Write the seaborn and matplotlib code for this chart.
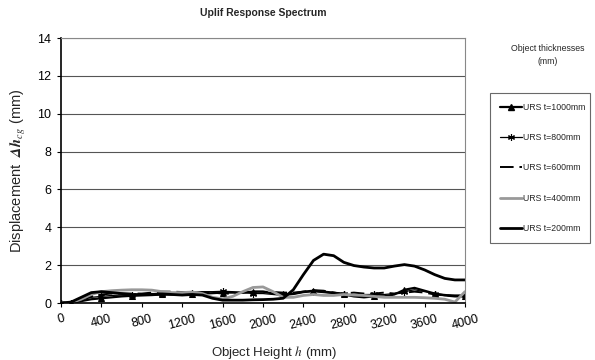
import numpy as np
import pandas as pd
import matplotlib
matplotlib.use("Agg")
import matplotlib.pyplot as plt
from matplotlib.lines import Line2D
import seaborn as sns

# Object height h (mm)
h = list(range(0, 4100, 100))

# Uplift response per object thickness (mm)
urs_1000 = [0, 0, 0.1, 0.2, 0.25, 0.3, 0.35, 0.38, 0.4, 0.42, 0.45, 0.45, 0.48, 0.5, 0.5, 0.52,
            0.55, 0.55, 0.55, 0.6, 0.6, 0.5, 0.45, 0.5, 0.6, 0.65, 0.6, 0.55, 0.45, 0.35, 0.3,
            0.35, 0.35, 0.45, 0.7, 0.8, 0.65, 0.5, 0.4, 0.35, 0.35]
urs_800 = [0, 0.02, 0.15, 0.3, 0.35, 0.4, 0.42, 0.4, 0.45, 0.5, 0.5, 0.48, 0.5, 0.55, 0.6, 0.6,
           0.62, 0.6, 0.55, 0.5, 0.5, 0.45, 0.4, 0.45, 0.55, 0.6, 0.55, 0.5, 0.45, 0.45, 0.45,
           0.45, 0.45, 0.5, 0.6, 0.7, 0.6, 0.5, 0.45, 0.4, 0.4]
urs_600 = [0, 0.02, 0.2, 0.35, 0.45, 0.5, 0.5, 0.5, 0.5, 0.55, 0.6, 0.6, 0.58, 0.55, 0.55, 0.55,
           0.5, 0.5, 0.55, 0.6, 0.6, 0.58, 0.55, 0.55, 0.6, 0.68, 0.65, 0.55, 0.5, 0.55, 0.5,
           0.5, 0.55, 0.5, 0.55, 0.6, 0.55, 0.45, 0.4, 0.4, 0.4]
urs_400 = [0, 0.02, 0.2, 0.45, 0.6, 0.65, 0.68, 0.7, 0.7, 0.68, 0.6, 0.55, 0.55, 0.58, 0.5, 0.3,
           0.22, 0.35, 0.6, 0.82, 0.85, 0.6, 0.3, 0.3, 0.4, 0.45, 0.4, 0.4, 0.45, 0.42, 0.4,
           0.35, 0.3, 0.3, 0.3, 0.3, 0.28, 0.25, 0.2, 0.05, 0.6]
urs_200 = [0, 0.05, 0.3, 0.55, 0.6, 0.55, 0.5, 0.45, 0.45, 0.45, 0.48, 0.45, 0.42, 0.45, 0.42, 0.25,
           0.15, 0.15, 0.15, 0.17, 0.18, 0.2, 0.25, 0.7, 1.5, 2.25, 2.58, 2.5, 2.15, 1.98, 1.9,
           1.85, 1.85, 1.95, 2.03, 1.95, 1.75, 1.5, 1.3, 1.22, 1.22]

labels = ["URS t=1000mm", "URS t=800mm", "URS t=600mm", "URS t=400mm", "URS t=200mm"]
x_ticks = list(range(0, 4400, 400))
y_ticks = list(range(0, 16, 2))

sns.set_style("white")
plt.rcParams["font.family"] = ["Liberation Sans", "DejaVu Sans"]
plt.rcParams["mathtext.fontset"] = "stix"

fig = plt.figure(figsize=(5.95, 3.6), dpi=100)
ax = fig.add_axes([0.1025, 0.1583, 0.679, 0.736])

styles = [
    dict(color="black", lw=1.6, marker="^", markersize=4.5,
         markeredgecolor="black", markerfacecolor="black"),
    dict(color="black", lw=0.9, marker=(6, 2, 0), markersize=5,
         markeredgecolor="black", mew=0.8),
    dict(color="black", lw=1.4, dashes=(7, 3)),
    dict(color="#999999", lw=2.0),
    dict(color="black", lw=2.0),
]
marks = [0] + list(range(1, len(h), 3))
series = [urs_1000, urs_800, urs_600, urs_400, urs_200]
for y, st in zip(series, styles):
    kw = dict(st)
    if "marker" in kw:
        kw["markevery"] = marks
    sns.lineplot(x=h, y=y, ax=ax, **kw)

ax.set_xlim(0, 4000)
ax.set_ylim(0, 14)
ax.set_xticks(x_ticks)
ax.set_xticklabels([str(t) for t in x_ticks], rotation=15, ha="center", fontsize=9)
ax.set_yticks(y_ticks)
ax.set_yticklabels([str(t) for t in y_ticks], fontsize=9)
ax.tick_params(axis="both", direction="out", length=3, width=0.8, colors="black",
               bottom=True, left=True)
ax.tick_params(axis="x", pad=4)
ax.tick_params(axis="y", pad=4)
ax.grid(axis="y", color="#555555", lw=0.8)
ax.set_axisbelow(True)
for s in ["top", "right"]:
    ax.spines[s].set_color("#888888")
    ax.spines[s].set_linewidth(0.8)
for s in ["left", "bottom"]:
    ax.spines[s].set_color("black")
    ax.spines[s].set_linewidth(1.2)

ax.set_title("Uplif Response Spectrum", fontsize=7.5, fontweight="bold", pad=16)
ax.set_xlabel(r"Object Height $\mathit{h}$ (mm)", fontsize=9.5)
ax.xaxis.set_label_coords(0.527, -0.155)
ax.set_ylabel(r"Displacement  $\mathbfit{\Delta h}_{\mathit{cg}}$ (mm)", fontsize=10.5, labelpad=7)

# legend handles drawn with the same styles (markers centred on the handle)
handles = [Line2D([], [], **st) for st in styles]
leg = fig.legend(handles, labels, loc="upper left",
                 bbox_to_anchor=(490 / 595, 1 - 245 / 360, 100 / 595, 152 / 360),
                 mode="expand", frameon=True, fancybox=False, edgecolor="#444444",
                 fontsize=6.3, labelspacing=2.45, handlelength=2.5, handletextpad=0.2,
                 borderpad=1.1, borderaxespad=0, numpoints=1)
leg.get_frame().set_linewidth(0.8)

fig.text(548 / 595, 1 - 55 / 360, "Object thicknesses\n(mm)", ha="center", va="center",
         fontsize=6.3, linespacing=1.6)

fig.savefig("out.png", dpi=100)
